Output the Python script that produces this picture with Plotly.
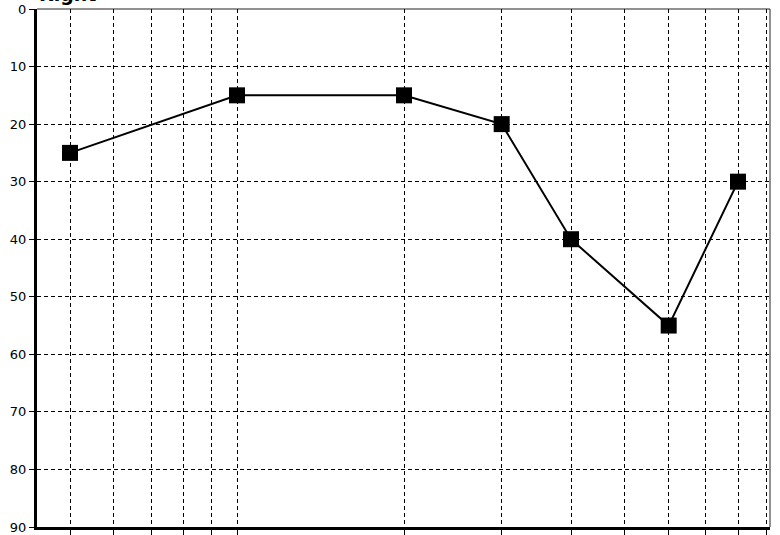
import numpy as np
import plotly.graph_objects as go

# Datos (frecuencia en Hz, umbral en dB)
frecuencias = [125, 250, 500, 750, 1000, 1500, 2000]
umbrales = [25, 15, 15, 20, 40, 55, 30]

# Líneas de la rejilla vertical y horizontal
ticks_x = [125, 150, 175, 200, 225, 250, 500, 750, 1000, 1250, 1500, 1750, 2000, 2250]
ticks_y = [0, 10, 20, 30, 40, 50, 60, 70, 80, 90]

titulo = "Right"

fig = go.Figure()

fig.add_trace(go.Scatter(
    x=frecuencias,
    y=umbrales,
    mode="lines+markers",
    line=dict(color="black", width=2),
    marker=dict(symbol="square", size=16, color="black"),
    showlegend=False,
))

fig.update_xaxes(
    type="log",
    range=[np.log10(109), np.log10(2284)],
    tickvals=ticks_x,
    showticklabels=False,
    ticks="outside",
    ticklen=5,
    tickwidth=1,
    tickcolor="black",
    showline=True,
    linecolor="black",
    linewidth=3,
    showgrid=True,
    gridcolor="black",
    gridwidth=1,
    griddash="4px,3px",
    zeroline=False,
    automargin=False,
)

fig.update_yaxes(
    range=[90, 0],
    tickvals=ticks_y,
    ticks="outside",
    ticklen=5,
    tickwidth=1,
    tickcolor="black",
    showline=True,
    linecolor="black",
    linewidth=3,
    showgrid=True,
    gridcolor="black",
    gridwidth=1,
    griddash="4px,3px",
    zeroline=False,
    automargin=False,
    tickfont=dict(family="DejaVu Sans", size=13, color="black"),
)

# Borde fino arriba y a la derecha
fig.add_shape(type="line", xref="paper", yref="paper", x0=0, x1=1, y0=1, y1=1,
              line=dict(color="#222222", width=1))
fig.add_shape(type="line", xref="paper", yref="paper", x0=1, x1=1, y0=0, y1=1,
              line=dict(color="#222222", width=1))

# Título recortado en la parte superior
fig.add_annotation(
    text="<b>" + titulo + "</b>",
    xref="paper", yref="paper",
    x=0, y=1,
    xanchor="left", yanchor="bottom",
    yshift=2,
    showarrow=False,
    font=dict(family="DejaVu Sans", size=19, color="black"),
)

fig.update_layout(
    width=780,
    height=535,
    margin=dict(l=37, r=10, t=9, b=8),
    paper_bgcolor="white",
    plot_bgcolor="white",
    font=dict(family="DejaVu Sans", color="black"),
)

# Quitamos el margen del body para que la figura empiece en la esquina
fig.write_html("out.html", config={"displayModeBar": False},
               post_script="document.body.style.margin='0';")
